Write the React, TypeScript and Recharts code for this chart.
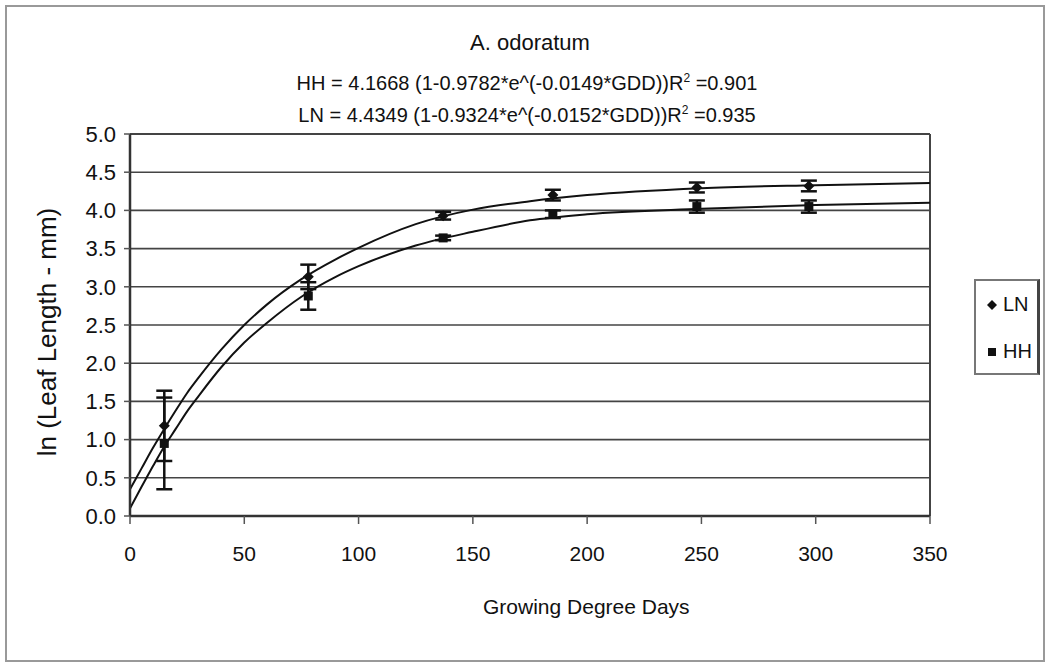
import React from 'react';
import {
  ComposedChart,
  Line,
  Scatter,
  XAxis,
  YAxis,
  CartesianGrid,
  ErrorBar,
  ReferenceLine,
  Legend,
} from 'recharts';

// Observed points (Growing Degree Days)
const gdd = [15, 78, 137, 185, 248, 297];
const lnMean = [1.18, 3.13, 3.93, 4.2, 4.3, 4.32];
const lnErr = [0.46, 0.16, 0.05, 0.07, 0.065, 0.07];
const hhMean = [0.95, 2.88, 3.64, 3.95, 4.05, 4.05];
const hhErr = [0.6, 0.18, 0.03, 0.05, 0.08, 0.08];

// Fitted curves
const fitX = [0, 5, 10, 15, 20, 25, 30, 40, 50, 60, 75, 90, 100, 125, 150, 175, 200, 250, 300, 350];
const lnFit = [0.35, 0.62, 0.89, 1.14, 1.38, 1.61, 1.81, 2.18, 2.5, 2.77, 3.1, 3.36, 3.51, 3.82, 4.01, 4.12, 4.2, 4.29, 4.33, 4.36];
const hhFit = [0.1, 0.38, 0.65, 0.91, 1.14, 1.37, 1.57, 1.95, 2.27, 2.53, 2.87, 3.13, 3.27, 3.54, 3.72, 3.87, 3.95, 4.02, 4.07, 4.1];

const xTicks = [0, 50, 100, 150, 200, 250, 300, 350];
const yTicks = [0, 0.5, 1, 1.5, 2, 2.5, 3, 3.5, 4, 4.5, 5];

const titleText = 'A. odoratum';
const eqHH = ['HH = 4.1668 (1-0.9782*e^(-0.0149*GDD))R', '2', ' =0.901'];
const eqLN = ['LN = 4.4349 (1-0.9324*e^(-0.0152*GDD))R', '2', ' =0.935'];
const xTitle = 'Growing Degree Days';
const yTitle = 'ln (Leaf Length - mm)';
const seriesNames = ['LN', 'HH'];

const lnPoints = gdd.map((x, i) => ({ x, y: lnMean[i], err: lnErr[i] }));
const hhPoints = gdd.map((x, i) => ({ x, y: hhMean[i], err: hhErr[i] }));
const lnCurve = fitX.map((x, i) => ({ x, y: lnFit[i] }));
const hhCurve = fitX.map((x, i) => ({ x, y: hhFit[i] }));

const FONT = '"Liberation Sans", Arial, sans-serif';

const Diamond = (props: any) => {
  const { cx, cy } = props;
  if (cx == null || cy == null) return null;
  const r = 5.5;
  return <path d={`M${cx},${cy - r}L${cx + r},${cy}L${cx},${cy + r}L${cx - r},${cy}Z`} fill="#111" />;
};

const Square = (props: any) => {
  const { cx, cy } = props;
  if (cx == null || cy == null) return null;
  return <rect x={cx - 4.5} y={cy - 4.5} width={9} height={9} fill="#111" />;
};

const LegendBox = () => (
  <div
    style={{
      width: 66,
      height: 96,
      border: '2px solid #777',
      borderRightColor: '#444',
      borderRightWidth: 3,
      background: '#fff',
      fontFamily: FONT,
      fontSize: 20,
      color: '#111',
      boxSizing: 'border-box',
      position: 'relative',
    }}
  >
    <div style={{ position: 'absolute', left: 10, top: 12, display: 'flex', alignItems: 'center' }}>
      <svg width={12} height={12}>
        <path d="M6,1L11,6L6,11L1,6Z" fill="#111" />
      </svg>
      <span style={{ marginLeft: 5 }}>{seriesNames[0]}</span>
    </div>
    <div style={{ position: 'absolute', left: 10, top: 59, display: 'flex', alignItems: 'center' }}>
      <svg width={12} height={12}>
        <rect x={2} y={2} width={8} height={8} fill="#111" />
      </svg>
      <span style={{ marginLeft: 5 }}>{seriesNames[1]}</span>
    </div>
  </div>
);

export default function App() {
  return (
    <div style={{ position: 'absolute', left: 0, top: 0, width: 1050, height: 665, background: '#fff', fontFamily: FONT }}>
      <div
        style={{
          position: 'absolute',
          left: 5,
          top: 5,
          width: 1040,
          height: 657,
          border: '2px solid #999',
          boxSizing: 'border-box',
        }}
      />
      <ComposedChart
        width={1050}
        height={665}
        margin={{ top: 134, right: 120, left: 70, bottom: 109 }}
        style={{ position: 'absolute', left: 0, top: 0 }}
      >
        <CartesianGrid horizontal vertical={false} stroke="#444" strokeWidth={1.6} />
        <XAxis
          type="number"
          dataKey="x"
          domain={[0, 350]}
          ticks={xTicks}
          allowDataOverflow
          height={40}
          tickSize={8}
          tickMargin={22}
          axisLine={{ stroke: '#333', strokeWidth: 2.5 }}
          tickLine={{ stroke: '#555', strokeWidth: 1.5 }}
          tick={{ fill: '#111', fontSize: 21, fontFamily: FONT }}
        />
        <YAxis
          type="number"
          dataKey="y"
          domain={[0, 5]}
          ticks={yTicks}
          allowDataOverflow
          width={60}
          tickSize={6}
          tickMargin={8}
          tickFormatter={(v: number) => v.toFixed(1)}
          axisLine={{ stroke: '#333', strokeWidth: 2.5 }}
          tickLine={{ stroke: '#555', strokeWidth: 1.5 }}
          tick={{ fill: '#111', fontSize: 22, fontFamily: FONT }}
        />
        <ReferenceLine x={350} stroke="#444" strokeWidth={2} />
        <ReferenceLine y={5} stroke="#444" strokeWidth={2} />
        <Line
          data={lnCurve}
          dataKey="y"
          type="monotone"
          stroke="#111"
          strokeWidth={2}
          dot={false}
          activeDot={false}
          isAnimationActive={false}
          legendType="none"
        />
        <Line
          data={hhCurve}
          dataKey="y"
          type="monotone"
          stroke="#111"
          strokeWidth={2}
          dot={false}
          activeDot={false}
          isAnimationActive={false}
          legendType="none"
        />
        <Scatter name={seriesNames[0]} data={lnPoints} dataKey="y" shape={Diamond} isAnimationActive={false}>
          <ErrorBar dataKey="err" direction="y" width={8} stroke="#111" strokeWidth={2.5} />
        </Scatter>
        <Scatter name={seriesNames[1]} data={hhPoints} dataKey="y" shape={Square} isAnimationActive={false}>
          <ErrorBar dataKey="err" direction="y" width={8} stroke="#111" strokeWidth={2.5} />
        </Scatter>
        <Legend
          layout="vertical"
          align="center"
          verticalAlign="middle"
          content={() => <LegendBox />}
          wrapperStyle={{ position: 'absolute', left: 974, top: 279, width: 66, height: 96 }}
        />
      </ComposedChart>
      <div
        style={{
          position: 'absolute',
          left: 0,
          width: 1060,
          top: 29,
          textAlign: 'center',
          fontSize: 22,
          color: '#111',
          lineHeight: '28px',
        }}
      >
        {titleText}
      </div>
      <div
        style={{
          position: 'absolute',
          left: 0,
          width: 1054,
          top: 65,
          textAlign: 'center',
          fontSize: 20,
          color: '#111',
          lineHeight: '27px',
          whiteSpace: 'nowrap',
        }}
      >
        {eqHH[0]}
        <sup style={{ fontSize: 12 }}>{eqHH[1]}</sup>
        {eqHH[2]}
        <br />
        {eqLN[0]}
        <sup style={{ fontSize: 12 }}>{eqLN[1]}</sup>
        {eqLN[2]}
      </div>
      <div
        style={{
          position: 'absolute',
          left: 483,
          width: 200,
          top: 594,
          textAlign: 'center',
          fontSize: 21,
          color: '#111',
          lineHeight: '26px',
          whiteSpace: 'nowrap',
        }}
      >
        {xTitle}
      </div>
      <div
        style={{
          position: 'absolute',
          left: 47 - 150,
          top: 332 - 15,
          width: 300,
          height: 30,
          lineHeight: '30px',
          textAlign: 'center',
          fontSize: 26,
          color: '#111',
          transform: 'rotate(-90deg)',
          whiteSpace: 'nowrap',
        }}
      >
        {yTitle}
      </div>
    </div>
  );
}
